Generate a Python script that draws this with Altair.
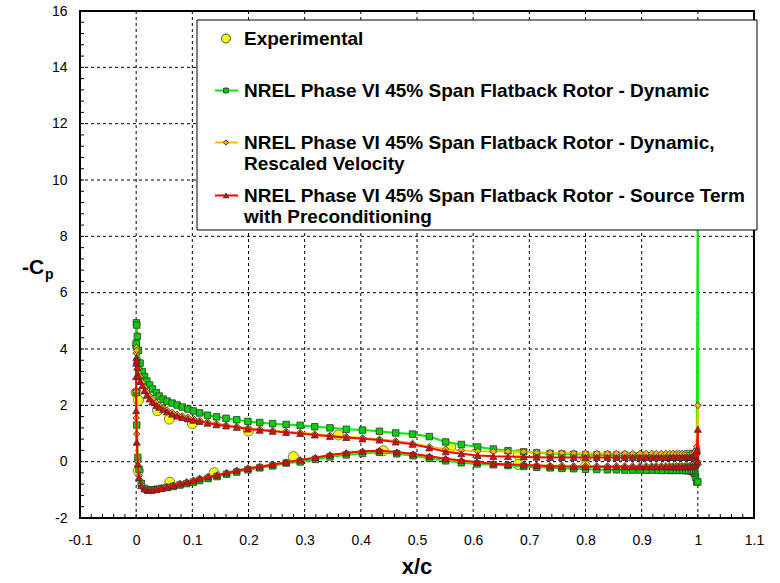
import altair as alt
import pandas as pd
import numpy as np

# ---------------- data ----------------
X_UPPER = [0.0005, 0.001, 0.002, 0.004, 0.007, 0.011, 0.015, 0.019, 0.024, 0.029,
           0.036, 0.041, 0.048, 0.055, 0.064, 0.073, 0.082, 0.092, 0.102, 0.113,
           0.127, 0.143, 0.160, 0.179, 0.199, 0.220, 0.243, 0.267, 0.292, 0.318,
           0.345, 0.374, 0.403, 0.433, 0.462, 0.492, 0.522, 0.551, 0.579, 0.608,
           0.636, 0.662, 0.690, 0.713, 0.737, 0.758, 0.779, 0.800, 0.820, 0.839,
           0.855, 0.870, 0.884, 0.897, 0.908, 0.918, 0.926, 0.935, 0.943, 0.950,
           0.956, 0.962, 0.967, 0.972, 0.977, 0.981, 0.985, 0.988, 0.991, 0.994,
           0.996, 0.998]

GREEN_UPPER = [4.93, 4.85, 4.45, 3.95, 3.50, 3.20, 3.02, 2.86, 2.72, 2.58,
               2.45, 2.33, 2.22, 2.15, 2.08, 2.01, 1.94, 1.87, 1.80, 1.73,
               1.65, 1.59, 1.54, 1.49, 1.43, 1.39, 1.35, 1.32, 1.29, 1.24,
               1.20, 1.15, 1.12, 1.08, 1.02, 0.98, 0.89, 0.70, 0.61, 0.52,
               0.45, 0.39, 0.35, 0.31, 0.29, 0.27, 0.26, 0.25, 0.24, 0.24,
               0.23, 0.23, 0.22, 0.22, 0.22, 0.21, 0.21, 0.21, 0.21, 0.21,
               0.21, 0.21, 0.21, 0.21, 0.21, 0.21, 0.22, 0.22, 0.23, 0.25,
               0.28, 0.35]

ORANGE_UPPER = [4.05, 3.95, 3.65, 3.30, 3.02, 2.82, 2.64, 2.47, 2.33, 2.22,
                2.09, 2.00, 1.91, 1.83, 1.75, 1.68, 1.62, 1.57, 1.52, 1.47,
                1.41, 1.35, 1.30, 1.25, 1.19, 1.15, 1.11, 1.07, 1.03, 0.98,
                0.93, 0.89, 0.84, 0.80, 0.73, 0.65, 0.53, 0.44, 0.40, 0.37,
                0.36, 0.36, 0.35, 0.33, 0.32, 0.31, 0.30, 0.30, 0.29, 0.29,
                0.29, 0.29, 0.29, 0.29, 0.29, 0.29, 0.29, 0.29, 0.29, 0.29,
                0.29, 0.29, 0.29, 0.29, 0.29, 0.29, 0.30, 0.30, 0.31, 0.33,
                0.38, 0.53]

RED_UPPER = [3.70, 3.60, 3.35, 3.05, 2.85, 2.70, 2.52, 2.36, 2.23, 2.12,
             2.00, 1.93, 1.85, 1.77, 1.69, 1.62, 1.57, 1.52, 1.47, 1.43,
             1.37, 1.31, 1.27, 1.22, 1.16, 1.12, 1.08, 1.04, 1.00, 0.95,
             0.90, 0.86, 0.81, 0.77, 0.70, 0.62, 0.49, 0.35, 0.28, 0.22,
             0.19, 0.18, 0.17, 0.16, 0.15, 0.15, 0.15, 0.15, 0.15, 0.15,
             0.15, 0.15, 0.15, 0.15, 0.15, 0.15, 0.15, 0.15, 0.15, 0.15,
             0.15, 0.15, 0.15, 0.15, 0.15, 0.15, 0.15, 0.16, 0.17, 0.20,
             0.25, 0.40]

X_LOWER = [0.0, 0.0, 0.0, 0.001, 0.003, 0.005, 0.009, 0.015, 0.021, 0.028,
           0.036, 0.045, 0.055, 0.066, 0.078, 0.090, 0.102, 0.113, 0.128, 0.144,
           0.161, 0.179, 0.199, 0.220, 0.243, 0.267, 0.292, 0.319, 0.345, 0.374,
           0.403, 0.433, 0.464, 0.493, 0.522, 0.551, 0.579, 0.607, 0.636, 0.662,
           0.690, 0.713, 0.737, 0.758, 0.779, 0.800, 0.820, 0.839, 0.855, 0.870,
           0.884, 0.897, 0.908, 0.918, 0.926, 0.935, 0.943, 0.950, 0.956, 0.962,
           0.967, 0.972, 0.977, 0.981, 0.985, 0.988, 0.991, 0.994, 0.996, 0.998]

GREEN_LOWER = [4.20, 4.12, 2.45, 1.30, 0.15, -0.27, -0.77, -0.95, -1.00, -1.00,
               -0.98, -0.95, -0.92, -0.88, -0.83, -0.78, -0.73, -0.67, -0.60, -0.53,
               -0.45, -0.37, -0.29, -0.22, -0.15, -0.05, -0.01, 0.08, 0.17, 0.24,
               0.29, 0.33, 0.28, 0.21, 0.12, 0.03, -0.04, -0.08, -0.11, -0.14,
               -0.17, -0.20, -0.22, -0.24, -0.25, -0.27, -0.28, -0.29, -0.29, -0.30,
               -0.30, -0.30, -0.30, -0.30, -0.30, -0.31, -0.31, -0.31, -0.31, -0.31,
               -0.31, -0.31, -0.31, -0.32, -0.32, -0.33, -0.36, -0.42, -0.55, -0.72]

ORANGE_LOWER = [3.85, 2.50, 1.55, 0.98, 0.00, -0.50, -0.82, -0.96, -1.01, -1.00,
                -0.97, -0.93, -0.89, -0.84, -0.78, -0.72, -0.66, -0.59, -0.53, -0.47,
                -0.39, -0.31, -0.23, -0.17, -0.10, -0.02, 0.06, 0.14, 0.23, 0.30,
                0.36, 0.38, 0.33, 0.26, 0.18, 0.09, 0.03, -0.03, -0.07, -0.10,
                -0.12, -0.13, -0.14, -0.14, -0.15, -0.15, -0.15, -0.15, -0.15, -0.15,
                -0.15, -0.15, -0.15, -0.15, -0.15, -0.15, -0.15, -0.15, -0.15, -0.15,
                -0.15, -0.15, -0.15, -0.15, -0.15, -0.14, -0.12, -0.08, -0.05, -0.02]

RED_LOWER = [3.50, 3.02, 1.81, 0.69, -0.08, -0.56, -0.85, -0.97, -1.02, -1.01,
             -0.98, -0.94, -0.90, -0.85, -0.79, -0.73, -0.67, -0.60, -0.54, -0.48,
             -0.40, -0.32, -0.24, -0.18, -0.11, -0.02, 0.06, 0.14, 0.24, 0.31,
             0.37, 0.39, 0.34, 0.27, 0.19, 0.10, 0.04, -0.02, -0.07, -0.10,
             -0.12, -0.14, -0.16, -0.17, -0.18, -0.18, -0.18, -0.18, -0.18, -0.18,
             -0.18, -0.18, -0.18, -0.18, -0.18, -0.18, -0.18, -0.18, -0.18, -0.18,
             -0.18, -0.18, -0.18, -0.18, -0.18, -0.18, -0.17, -0.15, -0.12, -0.05]

# trailing-edge (flatback base) points
GREEN_TE_X, GREEN_TE_Y = [1.0, 1.0], [10.5, -0.72]
ORANGE_TE_X, ORANGE_TE_Y = [1.0, 1.0], [2.0, 0.0]
RED_TE_X, RED_TE_Y = [1.0, 1.0], [1.15, 0.0]

EXP_X = [0.0, 0.004, 0.038, 0.059, 0.100, 0.200, 0.360, 0.560, 0.680, 0.800,
         0.004, 0.060, 0.139, 0.280, 0.440, 0.680, 0.800]
EXP_Y = [2.45, 2.18, 1.81, 1.51, 1.35, 1.09, 0.95, 0.51, 0.25, 0.12,
         -0.32, -0.73, -0.39, 0.18, 0.39, -0.10, -0.17]

X_TICKS = [-0.1, 0, 0.1, 0.2, 0.3, 0.4, 0.5, 0.6, 0.7, 0.8, 0.9, 1, 1.1]
Y_TICKS = [-2, 0, 2, 4, 6, 8, 10, 12, 14, 16]
GRID_X = [0, 0.1, 0.2, 0.3, 0.4, 0.5, 0.6, 0.7, 0.8, 0.9, 1]
GRID_Y = [0, 2, 4, 6, 8, 10, 12, 14]
MINOR_X = [round(v, 2) for v in np.arange(-0.1, 1.1001, 0.02)]
MINOR_Y = [round(v, 1) for v in np.arange(-2, 16.001, 0.4)]

LEGEND_LABELS = [
    ["Experimental"],
    ["NREL Phase VI 45% Span Flatback Rotor - Dynamic"],
    ["NREL Phase VI 45% Span Flatback Rotor - Dynamic,", "Rescaled Velocity"],
    ["NREL Phase VI 45% Span Flatback Rotor - Source Term", "with Preconditioning"],
]

# ---------------- styling ----------------
LEFT, TOP = 80, 11
W, H = 674, 507
FONT = "Liberation Sans"
GREEN_LINE, GREEN_FILL = "#00ee00", "#00d000"
ORANGE_LINE, ORANGE_FILL = "#ffc000", "#ffb000"
RED_LINE, RED_FILL = "#ff0000", "#ee0000"
EXP_FILL = "#ffff00"
MARK_STROKE = "#333333"

xs = alt.Scale(domain=[-0.1, 1.1], nice=False, zero=False)
ys = alt.Scale(domain=[-2, 16], nice=False, zero=False)
AX = alt.Axis(values=X_TICKS, grid=False, ticks=False, domain=False, title=None,
              labelExpr="toString(datum.value)", labelFont=FONT, labelFontSize=14,
              labelColor="black", labelPadding=15, labelFlush=False, labelOverlap=False)
AY = alt.Axis(values=Y_TICKS, grid=False, ticks=False, domain=False, title=None,
              labelExpr="toString(datum.value)", labelFont=FONT, labelFontSize=14,
              labelColor="black", labelPadding=13, labelFlush=False, labelOverlap=False)
X = alt.X("x:Q", scale=xs, axis=AX)
Y = alt.Y("y:Q", scale=ys, axis=AY)


def path_frame(x_lo, y_lo, x_up, y_up, x_te, y_te):
    xv = list(reversed(x_lo)) + list(x_up) + list(x_te)
    yv = list(reversed(y_lo)) + list(y_up) + list(y_te)
    return pd.DataFrame({"x": xv, "y": yv, "i": list(range(len(xv)))})


green_df = path_frame(X_LOWER, GREEN_LOWER, X_UPPER, GREEN_UPPER, GREEN_TE_X, GREEN_TE_Y)
orange_df = path_frame(X_LOWER, ORANGE_LOWER, X_UPPER, ORANGE_UPPER, ORANGE_TE_X, ORANGE_TE_Y)
red_df = path_frame(X_LOWER, RED_LOWER, X_UPPER, RED_UPPER, RED_TE_X, RED_TE_Y)
exp_df = pd.DataFrame({"x": EXP_X, "y": EXP_Y})

one = pd.DataFrame({"k": [0]})

layers = []
# grid
layers.append(alt.Chart(pd.DataFrame({"x": GRID_X})).mark_rule(
    color="black", strokeWidth=1, strokeDash=[3, 3]).encode(x=X))
layers.append(alt.Chart(pd.DataFrame({"y": GRID_Y})).mark_rule(
    color="black", strokeWidth=1, strokeDash=[3, 3]).encode(y=Y))
# minor ticks (inside)
layers.append(alt.Chart(pd.DataFrame({"x": MINOR_X})).mark_rule(
    color="black", strokeWidth=1).encode(x=X, y=alt.value(H), y2=alt.value(H - 4)))
layers.append(alt.Chart(pd.DataFrame({"y": MINOR_Y})).mark_rule(
    color="black", strokeWidth=1).encode(y=Y, x=alt.value(0), x2=alt.value(4)))

# experimental
layers.append(alt.Chart(exp_df).mark_point(
    shape="circle", fill=EXP_FILL, stroke="#777777", strokeWidth=1, size=100,
    opacity=1, fillOpacity=1).encode(x=X, y=Y))


def series(df, line_col, fill_col, shape, size):
    ln = alt.Chart(df).mark_line(color=line_col, strokeWidth=2).encode(
        x=X, y=Y, order="i:Q")
    pt = alt.Chart(df).mark_point(
        shape=shape, fill=fill_col, stroke=MARK_STROKE, strokeWidth=0.8, size=size,
        opacity=1, fillOpacity=1).encode(x=X, y=Y)
    return [ln, pt]


layers += series(green_df, GREEN_LINE, GREEN_FILL, "square", 42)
layers += series(orange_df, ORANGE_LINE, ORANGE_FILL, "diamond", 45)
layers += series(red_df, RED_LINE, RED_FILL, "triangle-up", 50)

# ---------------- legend box (drawn on top) ----------------
LX0, LX1, LY0, LY1 = 197 - LEFT, 757 - LEFT, 20 - TOP, 230 - TOP
layers.append(alt.Chart(one).mark_rect(fill="white", stroke="black", strokeWidth=1).encode(
    x=alt.value(LX0), x2=alt.value(LX1), y=alt.value(LY0), y2=alt.value(LY1)))

row_y = [27.5, 79.5, 131.5, 184.5]
line_gap = 21.5
text_x = 244 - LEFT
sym_x = 226 - LEFT
legend_styles = [
    (None, EXP_FILL, "circle", 80, "#444444"),
    (GREEN_LINE, GREEN_FILL, "square", 22, MARK_STROKE),
    (ORANGE_LINE, ORANGE_FILL, "diamond", 28, MARK_STROKE),
    (RED_LINE, RED_FILL, "triangle-up", 28, MARK_STROKE),
]
for labels, ry, (lc, fc, shp, sz, sc) in zip(LEGEND_LABELS, row_y, legend_styles):
    if lc is not None:
        layers.append(alt.Chart(one).mark_rule(color=lc, strokeWidth=2).encode(
            x=alt.value(sym_x - 11), x2=alt.value(sym_x + 12), y=alt.value(ry)))
    layers.append(alt.Chart(one).mark_point(
        shape=shp, fill=fc, stroke=sc, strokeWidth=1, size=sz, opacity=1,
        fillOpacity=1).encode(x=alt.value(sym_x), y=alt.value(ry)))
    for j, lab in enumerate(labels):
        layers.append(alt.Chart(one).mark_text(
            text=lab, font=FONT, fontSize=19, fontWeight="bold", color="black",
            align="left", baseline="middle").encode(
            x=alt.value(text_x), y=alt.value(ry + j * line_gap)))

# ---------------- axis titles ----------------
layers.append(alt.Chart(one).mark_text(
    text="x/c", font=FONT, fontSize=22, fontWeight="bold", color="black",
    align="center", baseline="middle").encode(x=alt.value(W / 2), y=alt.value(556)))
layers.append(alt.Chart(one).mark_text(
    text="-C", font=FONT, fontSize=21, fontWeight="bold", color="black",
    align="left", baseline="middle").encode(x=alt.value(22 - LEFT), y=alt.value(268 - TOP)))
layers.append(alt.Chart(one).mark_text(
    text="p", font=FONT, fontSize=14, fontWeight="bold", color="black",
    align="left", baseline="middle").encode(x=alt.value(45 - LEFT), y=alt.value(275 - TOP)))

chart = alt.layer(*layers).properties(
    width=W, height=H,
    autosize=alt.AutoSizeParams(type="none"),
    padding={"left": LEFT, "top": TOP, "right": 780 - LEFT - W, "bottom": 583 - TOP - H},
    background="white",
).configure_view(stroke="black", strokeWidth=2)

chart.save("out.html", embed_options={"renderer": "svg", "actions": False})
